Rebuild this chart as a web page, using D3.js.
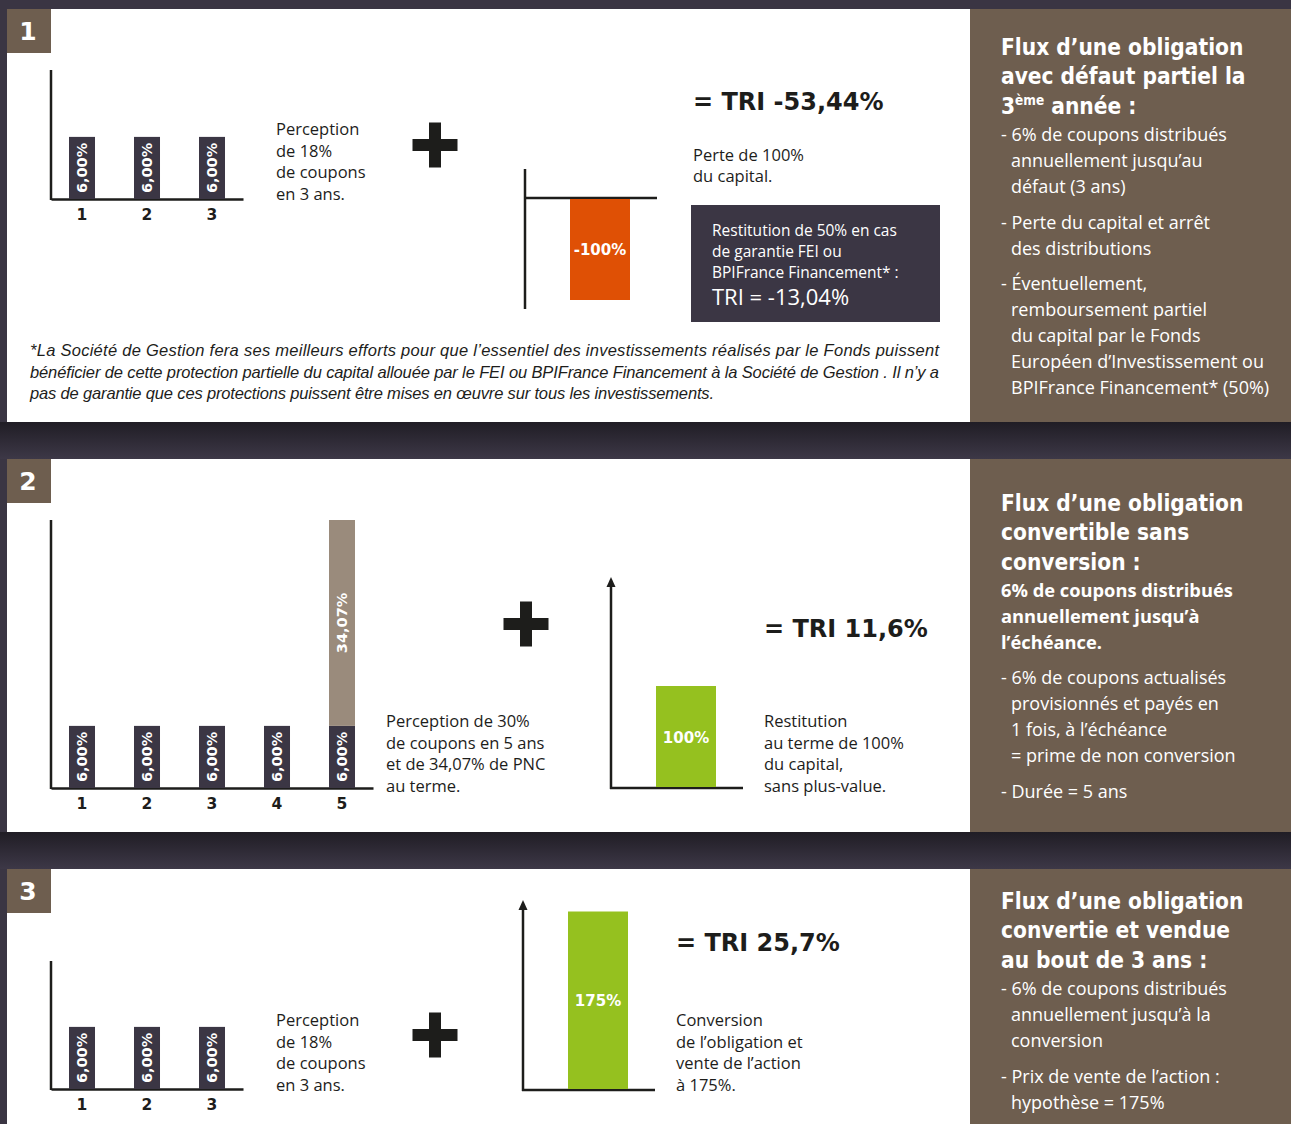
<!DOCTYPE html>
<html>
<head>
<meta charset="utf-8">
<script src="https://cdn.jsdelivr.net/npm/d3@7"></script>
<style>
  body { margin: 0; background: #3a3543; }
  svg { display: block; }
</style>
</head>
<body>
<div id="chart"></div>
<script>
document.addEventListener("DOMContentLoaded", function() {

// coupons paid each year (%) for the three cases
var years1 = ["1", "2", "3"];
var coupons1 = [6, 6, 6];
var years2 = ["1", "2", "3", "4", "5"];
var coupons2 = [6, 6, 6, 6, 6];
var pnc2 = [0, 0, 0, 0, 34.07];
var years3 = ["1", "2", "3"];
var coupons3 = [6, 6, 6];

// capital at the end (%) and resulting TRI
var capital = [-100, 100, 175];
var capitalLabels = ["-100%", "100%", "175%"];
var triLabels = ["= TRI -53,44%", "= TRI 11,6%", "= TRI 25,7%"];

// texts
var perception1 = ["Perception", "de 18%", "de coupons", "en 3 ans."];
var perception2 = ["Perception de 30%", "de coupons en 5 ans", "et de 34,07% de PNC", "au terme."];
var perception3 = ["Perception", "de 18%", "de coupons", "en 3 ans."];
var capitalText1 = ["Perte de 100%", "du capital."];
var capitalText2 = ["Restitution", "au terme de 100%", "du capital,", "sans plus-value."];
var capitalText3 = ["Conversion", "de l’obligation et", "vente de l’action", "à 175%."];
var guaranteeText = ["Restitution de 50% en cas", "de garantie FEI ou", "BPIFrance Financement* :"];
var guaranteeTri = "TRI = -13,04%";
var footnote = [
  "*La Société de Gestion fera ses meilleurs efforts pour que l’essentiel des investissements réalisés par le Fonds puissent",
  "bénéficier de cette protection partielle du capital allouée par le FEI ou BPIFrance Financement à la Société de Gestion . Il n’y a",
  "pas de garantie que ces protections puissent être mises en œuvre sur tous les investissements."
];
var titles1 = ["Flux d’une obligation", "avec défaut partiel la", "3|ème| année :"];
var titles2 = ["Flux d’une obligation", "convertible sans", "conversion :"];
var titles3 = ["Flux d’une obligation", "convertie et vendue", "au bout de 3 ans :"];
var lead2 = ["6% de coupons distribués", "annuellement jusqu’à", "l’échéance."];
var notes1 = [
  ["- 6% de coupons distribués", "annuellement jusqu’au", "défaut (3 ans)"],
  ["- Perte du capital et arrêt", "des distributions"],
  ["- Éventuellement,", "remboursement  partiel", "du capital par le Fonds", "Européen d’Investissement ou", "BPIFrance Financement* (50%)"]
];
var notes2 = [
  ["- 6% de coupons actualisés", "provisionnés et payés en", "1 fois, à l’échéance", "= prime de non conversion"],
  ["- Durée = 5 ans"]
];
var notes3 = [
  ["- 6% de coupons distribués", "annuellement jusqu’à la", "conversion"],
  ["- Prix de vente de l’action :", "hypothèse = 175%"]
];

var W = 1291, H = 1124;
var fHead = "'DejaVu Sans', sans-serif";
var fTitle = "'DejaVu Sans Condensed', 'DejaVu Sans', sans-serif";
var fBody = "'Open Sans', sans-serif";
var fNote = "'Liberation Sans Narrow', 'Liberation Sans', sans-serif";
var ink = "#1d1d1b", dark = "#3b3644", brown = "#6e5e4f", pncColor = "#9a8b7c",
    green = "#95c11f", orange = "#df5005";

var svg = d3.select("#chart").append("svg")
  .attr("width", W).attr("height", H);

var defs = svg.append("defs");
var grad = defs.append("linearGradient").attr("id", "gap").attr("x1", 0).attr("x2", 0).attr("y1", 0).attr("y2", 1);
grad.append("stop").attr("offset", "0%").attr("stop-color", "#201d25");
grad.append("stop").attr("offset", "100%").attr("stop-color", "#3d3847");

svg.append("rect").attr("width", W).attr("height", H).attr("fill", "#3a3543");

// panel boxes
var panels = [{top: 9, bottom: 422}, {top: 459, bottom: 832}, {top: 869, bottom: 1124}];
[[422, 459], [832, 869]].forEach(function(g) {
  svg.append("rect").attr("x", 0).attr("y", g[0]).attr("width", W).attr("height", g[1] - g[0]).attr("fill", "url(#gap)");
});
panels.forEach(function(p, i) {
  svg.append("rect").attr("x", 7).attr("y", p.top).attr("width", 963).attr("height", p.bottom - p.top).attr("fill", "#fff");
  svg.append("rect").attr("x", 970).attr("y", p.top).attr("width", W - 970).attr("height", p.bottom - p.top).attr("fill", brown);
  svg.append("rect").attr("x", 7).attr("y", p.top).attr("width", 44).attr("height", 44).attr("fill", brown);
  svg.append("text").attr("x", 28).attr("y", p.top + 31)
    .attr("text-anchor", "middle").attr("font-family", fHead).attr("font-weight", "bold")
    .attr("font-size", 25).attr("fill", "#fff").text(i + 1);
});

function textLines(arr, x, y0, dy, font, size, weight, fill) {
  var t = svg.append("g");
  arr.forEach(function(s, i) {
    t.append("text").attr("x", x).attr("y", y0 + i * dy)
      .attr("font-family", font).attr("font-size", size)
      .attr("font-weight", weight || "normal").attr("fill", fill || ink).text(s);
  });
  return t;
}

// coupon bar charts
var couponMax = d3.max(coupons2.map(function(c, i) { return c + pnc2[i]; }));
var h = d3.scalePow().exponent(0.77).domain([0, couponMax]).range([0, 268]);

function couponChart(years, coupons, pnc, base, axisTop) {
  var n = years.length;
  var x = d3.scaleBand().domain(years)
    .range([51, 51 + 65 * (n - 0.6 + 2 * 0.277)])
    .paddingInner(0.6).paddingOuter(0.277);
  var rows = years.map(function(yr, i) {
    return {year: yr, coupon: coupons[i], pnc: pnc ? pnc[i] : 0};
  });

  svg.append("line").attr("x1", 51).attr("x2", 51).attr("y1", axisTop).attr("y2", base + 1)
    .attr("stroke", ink).attr("stroke-width", 2.5);

  var ax = svg.append("g").attr("transform", "translate(0," + base + ")")
    .call(d3.axisBottom(x).tickSize(0).tickSizeOuter(0).tickPadding(9.5));
  ax.select(".domain").attr("stroke", ink).attr("stroke-width", 2.5);
  ax.attr("font-family", fHead).attr("font-size", 15.5);
  ax.selectAll("text").attr("font-weight", "bold").attr("fill", ink);

  var g = svg.append("g").selectAll("g").data(rows).enter().append("g")
    .attr("transform", function(d) { return "translate(" + x(d.year) + ",0)"; });

  g.append("rect")
    .attr("y", function(d) { return base - h(d.coupon); })
    .attr("width", x.bandwidth())
    .attr("height", function(d) { return h(d.coupon); })
    .attr("fill", dark);
  g.append("text")
    .attr("transform", function(d) {
      return "translate(" + (x.bandwidth() / 2 + 5) + "," + (base - h(d.coupon) / 2) + ") rotate(-90)";
    })
    .attr("text-anchor", "middle")
    .attr("font-family", fHead).attr("font-weight", "bold").attr("font-size", 14.5)
    .attr("fill", "#fff")
    .text(function(d) { return d3.format(".2f")(d.coupon).replace(".", ",") + "%"; });

  var extra = g.filter(function(d) { return d.pnc > 0; });
  extra.append("rect")
    .attr("y", function(d) { return base - h(d.coupon + d.pnc); })
    .attr("width", x.bandwidth())
    .attr("height", function(d) { return h(d.coupon + d.pnc) - h(d.coupon); })
    .attr("fill", pncColor);
  extra.append("text")
    .attr("transform", function(d) {
      var mid = base - (h(d.coupon + d.pnc) + h(d.coupon)) / 2;
      return "translate(" + (x.bandwidth() / 2 + 5) + "," + mid + ") rotate(-90)";
    })
    .attr("text-anchor", "middle")
    .attr("font-family", fHead).attr("font-weight", "bold").attr("font-size", 14.5)
    .attr("fill", "#fff")
    .text(function(d) { return d3.format(".2f")(d.pnc).replace(".", ",") + "%"; });
}

couponChart(years1, coupons1, null, 199, 70);
couponChart(years2, coupons2, pnc2, 788, 520);
couponChart(years3, coupons3, null, 1089, 961);

// capital charts
function capitalChart(i, ox, zero, axisTop, axisBottom, axisRight, arrow) {
  var y = d3.scaleLinear().domain([0, 100]).range([zero, zero - 102]);
  var v = capital[i];
  svg.append("line").attr("x1", ox).attr("x2", ox).attr("y1", axisTop + (arrow ? 6 : 0)).attr("y2", axisBottom)
    .attr("stroke", ink).attr("stroke-width", 2.5);
  svg.append("line").attr("x1", ox - 1).attr("x2", axisRight).attr("y1", zero).attr("y2", zero)
    .attr("stroke", ink).attr("stroke-width", 2.5);
  if (arrow) {
    svg.append("path")
      .attr("d", "M" + (ox - 4.5) + "," + (axisTop + 10) + "L" + ox + "," + axisTop + "L" + (ox + 4.5) + "," + (axisTop + 10) + "Z")
      .attr("fill", ink);
  }
  svg.append("rect")
    .attr("x", ox + 45).attr("width", 60)
    .attr("y", Math.min(y(0), y(v)) + (v < 0 ? 1 : 0))
    .attr("height", Math.abs(y(v) - y(0)) - 1)
    .attr("fill", v < 0 ? orange : green);
  svg.append("text")
    .attr("x", ox + 75).attr("y", (y(0) + y(v)) / 2 + 5.5)
    .attr("text-anchor", "middle")
    .attr("font-family", fHead).attr("font-weight", "bold").attr("font-size", 15)
    .attr("fill", "#fff").text(capitalLabels[i]);
}

capitalChart(0, 525, 198, 169, 309, 657, false);
capitalChart(1, 611, 788, 577, 789, 743, true);
capitalChart(2, 523, 1090, 900, 1091, 655, true);

// plus signs
function plus(cx, cy) {
  var a = 22.5, t = 6;
  svg.append("path")
    .attr("d", "M" + (cx - t) + "," + (cy - a) + "h" + 2 * t + "v" + (a - t) + "h" + (a - t) + "v" + 2 * t +
      "h" + (t - a) + "v" + (a - t) + "h" + (-2 * t) + "v" + (t - a) + "h" + (t - a) + "v" + (-2 * t) + "h" + (a - t) + "Z")
    .attr("fill", ink);
}
plus(435, 145);
plus(526, 624);
plus(435, 1035);

// TRI
[[693, 110], [764, 637], [676, 951]].forEach(function(p, i) {
  svg.append("text").attr("x", p[0]).attr("y", p[1])
    .attr("font-family", fHead).attr("font-weight", "bold").attr("font-size", 24)
    .attr("fill", ink).text(triLabels[i]);
});

textLines(perception1, 276, 135, 21.5, fBody, 16.5);
textLines(perception2, 386, 727, 21.5, fBody, 16.5);
textLines(perception3, 276, 1026, 21.5, fBody, 16.5);
textLines(capitalText1, 693, 161, 21, fBody, 16.5);
textLines(capitalText2, 764, 727, 21.5, fBody, 16.5);
textLines(capitalText3, 676, 1026, 21.5, fBody, 16.5);

// guarantee box
svg.append("rect").attr("x", 691).attr("y", 205).attr("width", 249).attr("height", 117).attr("fill", dark);
textLines(guaranteeText, 712, 236, 21, fBody, 15.5, "normal", "#fff");
svg.append("text").attr("x", 712).attr("y", 305)
  .attr("font-family", fBody).attr("font-size", 22).attr("fill", "#fff").text(guaranteeTri);

// footnote
var fn = textLines(footnote, 30, 356, 21.5, fNote, 16.5);
fn.selectAll("text").attr("font-style", "italic").attr("lengthAdjust", "spacing")
  .attr("textLength", function(d, i) { return i < 2 ? 909 : 684; });

// right-hand notes
function notes(titles, lead, groups, y0) {
  var y = y0;
  titles.forEach(function(s) {
    var t = svg.append("text").attr("x", 1001).attr("y", y)
      .attr("font-family", fTitle).attr("font-weight", "bold").attr("font-size", 22.5).attr("fill", "#fff");
    var parts = s.split("|");
    t.append("tspan").text(parts[0]);
    if (parts.length > 1) {
      t.append("tspan").attr("font-size", 13.5).attr("dy", -8.5).text(parts[1]);
      t.append("tspan").attr("dy", 8.5).text(parts[2]);
    }
    y += 29.3;
  });
  y -= 1.5;
  if (lead) {
    lead.forEach(function(s) {
      svg.append("text").attr("x", 1001).attr("y", y)
        .attr("font-family", fBody).attr("font-weight", "bold").attr("font-size", 18.3)
        .attr("fill", "#fff").text(s);
      y += 26;
    });
    y += 9;
  }
  groups.forEach(function(grp) {
    grp.forEach(function(s, j) {
      svg.append("text").attr("x", j === 0 ? 1001 : 1011).attr("y", y)
        .attr("font-family", fBody).attr("font-size", 18).attr("fill", "#fff").text(s);
      y += 26;
    });
    y += 9.5;
  });
}
notes(titles1, null, notes1, 55);
notes(titles2, lead2, notes2, 511);
notes(titles3, null, notes3, 909);

});
</script>
</body>
</html>
